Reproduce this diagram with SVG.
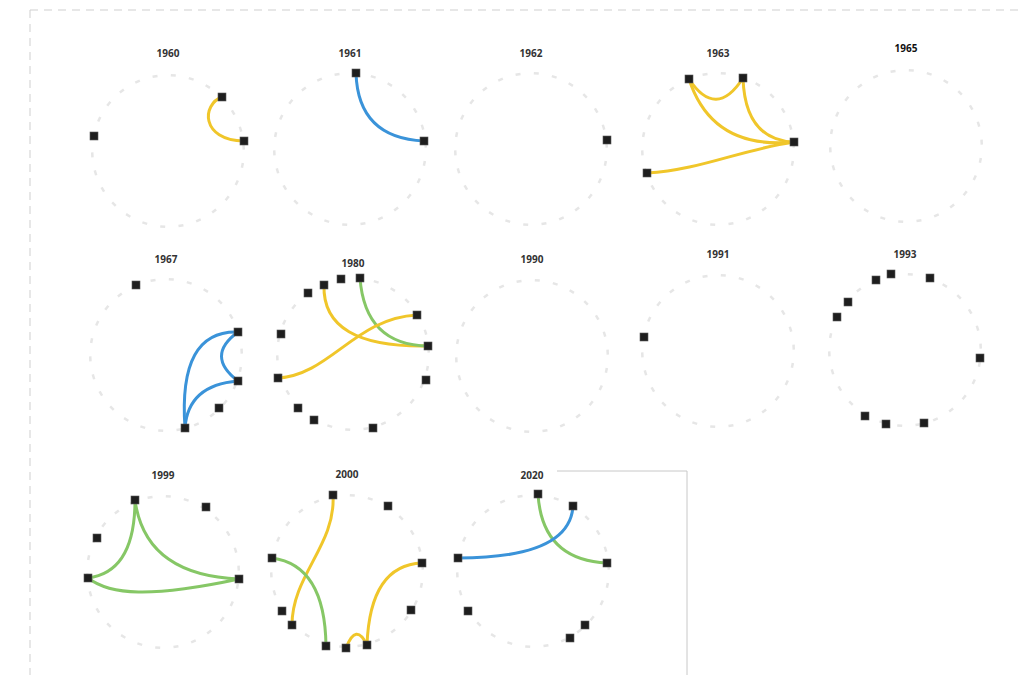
<svg xmlns="http://www.w3.org/2000/svg" xmlns:xlink="http://www.w3.org/1999/xlink" width="1021" height="675" viewBox="0 0 1021 675">
<style>
.t{font-family:"Open Sans","Liberation Sans",sans-serif;font-size:10px;font-weight:700;fill:#333;text-anchor:middle}
.n{fill:#1e1e1e;stroke:#5a5a5a;stroke-width:0.6}
.e{fill:none;stroke-width:3;stroke-linecap:round}
.y{stroke:#f0c62a}.b{stroke:#3a93d9}.g{stroke:#86c766}
.m{fill:#e6e6e6}
</style>
<defs>
<g id="ring">
<rect class="m" x="-2.5" y="-77" width="5" height="2.5" transform="rotate(4)"/>
<rect class="m" x="-2.5" y="-77" width="5" height="2.5" transform="rotate(17.85)"/>
<rect class="m" x="-2.5" y="-77" width="5" height="2.5" transform="rotate(31.69)"/>
<rect class="m" x="-2.5" y="-77" width="5" height="2.5" transform="rotate(45.54)"/>
<rect class="m" x="-2.5" y="-77" width="5" height="2.5" transform="rotate(59.38)"/>
<rect class="m" x="-2.5" y="-77" width="5" height="2.5" transform="rotate(73.23)"/>
<rect class="m" x="-2.5" y="-77" width="5" height="2.5" transform="rotate(87.08)"/>
<rect class="m" x="-2.5" y="-77" width="5" height="2.5" transform="rotate(100.92)"/>
<rect class="m" x="-2.5" y="-77" width="5" height="2.5" transform="rotate(114.77)"/>
<rect class="m" x="-2.5" y="-77" width="5" height="2.5" transform="rotate(128.62)"/>
<rect class="m" x="-2.5" y="-77" width="5" height="2.5" transform="rotate(142.46)"/>
<rect class="m" x="-2.5" y="-77" width="5" height="2.5" transform="rotate(156.31)"/>
<rect class="m" x="-2.5" y="-77" width="5" height="2.5" transform="rotate(170.15)"/>
<rect class="m" x="-2.5" y="-77" width="5" height="2.5" transform="rotate(184)"/>
<rect class="m" x="-2.5" y="-77" width="5" height="2.5" transform="rotate(197.85)"/>
<rect class="m" x="-2.5" y="-77" width="5" height="2.5" transform="rotate(211.69)"/>
<rect class="m" x="-2.5" y="-77" width="5" height="2.5" transform="rotate(225.54)"/>
<rect class="m" x="-2.5" y="-77" width="5" height="2.5" transform="rotate(239.38)"/>
<rect class="m" x="-2.5" y="-77" width="5" height="2.5" transform="rotate(253.23)"/>
<rect class="m" x="-2.5" y="-77" width="5" height="2.5" transform="rotate(267.08)"/>
<rect class="m" x="-2.5" y="-77" width="5" height="2.5" transform="rotate(280.92)"/>
<rect class="m" x="-2.5" y="-77" width="5" height="2.5" transform="rotate(294.77)"/>
<rect class="m" x="-2.5" y="-77" width="5" height="2.5" transform="rotate(308.62)"/>
<rect class="m" x="-2.5" y="-77" width="5" height="2.5" transform="rotate(322.46)"/>
<rect class="m" x="-2.5" y="-77" width="5" height="2.5" transform="rotate(336.31)"/>
<rect class="m" x="-2.5" y="-77" width="5" height="2.5" transform="rotate(350.15)"/>
</g>
<rect id="sq" class="n" x="-4" y="-4" width="8" height="8"/>
</defs>
<rect width="1021" height="675" fill="#fff"/>
<path d="M30,10H1021M30,10V675" fill="none" stroke="#cfcfcf" stroke-width="1" stroke-dasharray="8 6"/>
<path d="M557,471H687V675" fill="none" stroke="#c8c8c8" stroke-width="1"/>

<g id="p1960"><text class="t" x="168" y="57">1960</text><use href="#ring" x="168" y="151"/></g>
<g id="p1961"><text class="t" x="350" y="57">1961</text><use href="#ring" x="350" y="149"/></g>
<g id="p1962"><text class="t" x="531" y="57">1962</text><use href="#ring" x="531" y="149"/></g>
<g id="p1963"><text class="t" x="718" y="57">1963</text><use href="#ring" x="718" y="149"/></g>
<g id="p1965"><text class="t" x="906" y="52" style="fill:#111">1965</text><use href="#ring" x="906" y="146"/></g>
<g id="p1967"><text class="t" x="166" y="263">1967</text><use href="#ring" x="166" y="355"/></g>
<g id="p1980"><text class="t" x="353" y="267">1980</text><use href="#ring" x="353" y="354"/></g>
<g id="p1990"><text class="t" x="532" y="263">1990</text><use href="#ring" x="532" y="356"/></g>
<g id="p1991"><text class="t" x="718" y="258">1991</text><use href="#ring" x="718" y="351"/></g>
<g id="p1993"><text class="t" x="905" y="258">1993</text><use href="#ring" x="905" y="350"/></g>
<g id="p1999"><text class="t" x="163" y="479">1999</text><use href="#ring" x="163" y="572"/></g>
<g id="p2000"><text class="t" x="347" y="478">2000</text><use href="#ring" x="347" y="571"/></g>
<g id="p2020"><text class="t" x="532" y="479">2020</text><use href="#ring" x="533" y="571"/></g>

<g id="connectors">
<path class="e y" d="M222,97C202,104 200,140 244,141"/>
<path class="e b" d="M356,73Q358,138 424,141"/>
<path class="e y" d="M689,79Q716,120 743,78"/>
<path class="e y" d="M689,79Q712,150 794,142"/>
<path class="e y" d="M743,78Q745,140 794,142"/>
<path class="e y" d="M647,173C700,170 740,150 794,142"/>
<path class="e b" d="M238,332Q205,356 238,381"/>
<path class="e b" d="M238,332Q178,330 185,428"/>
<path class="e b" d="M238,381Q188,385 185,428"/>
<path class="e y" d="M324,285Q322,348 428,346"/>
<path class="e g" d="M360,278Q365,345 428,346"/>
<path class="e y" d="M278,378C330,375 355,318 417,315"/>
<path class="e g" d="M135,500Q135,572 88,578"/>
<path class="e g" d="M135,500Q145,575 239,579"/>
<path class="e g" d="M88,578C110,595 150,598 239,579"/>
<path class="e y" d="M333,495C336,545 292,575 292,625"/>
<path class="e g" d="M272,558Q325,565 326,646"/>
<path class="e y" d="M422,563Q370,565 367,645"/>
<path class="e y" d="M346,648Q356,622 367,645"/>
<path class="e g" d="M538,494Q542,560 607,563"/>
<path class="e b" d="M573,506Q570,558 458,558"/>
</g>

<g id="nodes">
<use href="#sq" x="94" y="136"/><use href="#sq" x="222" y="97"/><use href="#sq" x="244" y="141"/>
<use href="#sq" x="356" y="73"/><use href="#sq" x="424" y="141"/>
<use href="#sq" x="607" y="140"/>
<use href="#sq" x="689" y="79"/><use href="#sq" x="743" y="78"/><use href="#sq" x="794" y="142"/><use href="#sq" x="647" y="173"/>
<use href="#sq" x="136" y="285"/><use href="#sq" x="238" y="332"/><use href="#sq" x="238" y="381"/><use href="#sq" x="219" y="408"/><use href="#sq" x="185" y="428"/>
<use href="#sq" x="324" y="285"/><use href="#sq" x="341" y="279"/><use href="#sq" x="360" y="278"/><use href="#sq" x="308" y="293"/><use href="#sq" x="417" y="315"/><use href="#sq" x="428" y="346"/><use href="#sq" x="281" y="334"/><use href="#sq" x="278" y="378"/><use href="#sq" x="426" y="380"/><use href="#sq" x="298" y="408"/><use href="#sq" x="314" y="420"/><use href="#sq" x="373" y="428"/>
<use href="#sq" x="644" y="337"/>
<use href="#sq" x="876" y="280"/><use href="#sq" x="891" y="274"/><use href="#sq" x="930" y="278"/><use href="#sq" x="848" y="302"/><use href="#sq" x="837" y="317"/><use href="#sq" x="980" y="358"/><use href="#sq" x="865" y="416"/><use href="#sq" x="886" y="424"/><use href="#sq" x="924" y="423"/>
<use href="#sq" x="135" y="500"/><use href="#sq" x="206" y="507"/><use href="#sq" x="97" y="538"/><use href="#sq" x="88" y="578"/><use href="#sq" x="239" y="579"/>
<use href="#sq" x="333" y="495"/><use href="#sq" x="388" y="506"/><use href="#sq" x="272" y="558"/><use href="#sq" x="422" y="563"/><use href="#sq" x="282" y="611"/><use href="#sq" x="411" y="610"/><use href="#sq" x="292" y="625"/><use href="#sq" x="326" y="646"/><use href="#sq" x="346" y="648"/><use href="#sq" x="367" y="645"/>
<use href="#sq" x="538" y="494"/><use href="#sq" x="573" y="506"/><use href="#sq" x="458" y="558"/><use href="#sq" x="607" y="563"/><use href="#sq" x="468" y="611"/><use href="#sq" x="585" y="625"/><use href="#sq" x="570" y="638"/>
</g>
</svg>
